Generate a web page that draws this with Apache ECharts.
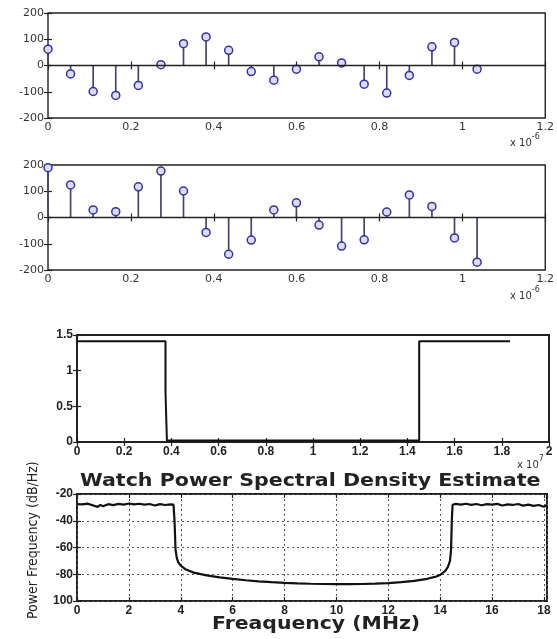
<!DOCTYPE html>
<html>
<head>
<meta charset="utf-8">
<script src="https://cdn.jsdelivr.net/npm/echarts@6/dist/echarts.min.js"></script>
<style>
  html, body { margin: 0; padding: 0; background: #fff; }
  #chart { width: 557px; height: 639px; }
</style>
</head>
<body>
<div id="chart"></div>
<script>
// Sample instants (units of 1e-6 s) shared by both stem plots
const sampleTimes = [0, 0.0545, 0.109, 0.1635, 0.218, 0.2725, 0.327, 0.3815, 0.436, 0.4905,
                     0.545, 0.5995, 0.654, 0.7085, 0.763, 0.8175, 0.872, 0.9265, 0.981, 1.0355];
// Stem amplitudes, upper plot
const stemA = [62, -32, -99, -114, -76, 3, 83, 109, 58, -23,
               -56, -14, 33, 10, -71, -105, -38, 71, 88, -14];
// Stem amplitudes, lower plot
const stemB = [190, 124, 29, 22, 117, 177, 101, -57, -140, -86,
               29, 56, -29, -109, -85, 21, 86, 42, -78, -170];

// Ideal band-stop response (frequency in units of 1e7 Hz)
const maskFreq = [0, 0.375, 0.375, 0.381, 0.381, 1.45, 1.45, 1.835];
const maskGain = [1.414, 1.414, 0.70, 0.70, 0.02, 0.02, 1.414, 1.414];

// Welch PSD estimate (MHz, dB/Hz)
const psdFreq = [0, 0.2, 0.4, 0.6, 0.8, 0.9, 1.0, 1.2, 1.4, 1.6, 1.8, 2.0, 2.2, 2.4, 2.6, 2.8, 3.0, 3.2, 3.4, 3.6, 3.72,
                 3.76, 3.8, 3.85, 3.9, 4.0, 4.2, 4.5, 5.0, 5.5, 6.0, 6.5, 7.0, 7.5, 8.0, 8.5, 9.0, 9.5, 10.0, 10.5,
                 11.0, 11.5, 12.0, 12.5, 13.0, 13.5, 13.8, 14.0, 14.2, 14.3, 14.38, 14.42, 14.45, 14.48,
                 14.6, 14.8, 15.0, 15.2, 15.4, 15.6, 15.8, 16.0, 16.2, 16.4, 16.6, 16.8, 17.0, 17.2, 17.4, 17.6, 17.8, 18.0, 18.12];
const psdDb = [-27.5, -27.8, -27.2, -28.4, -29.6, -28.1, -29.2, -27.6, -28.3, -27.4, -27.9, -27.1, -27.8, -27.3, -28.0, -27.5, -28.6, -27.6, -28.2, -27.7, -28.0,
               -40, -62, -68, -71, -73.5, -76.5, -78.8, -80.8, -82.3, -83.5, -84.5, -85.3, -85.9, -86.4, -86.8, -87.1, -87.3, -87.4, -87.4,
               -87.3, -87.0, -86.6, -85.9, -84.9, -83.4, -82.0, -80.5, -77.5, -74.5, -70, -62, -40, -28,
               -27.4, -27.9, -27.3, -28.1, -27.5, -28.4, -27.6, -28.0, -27.4, -28.6, -27.8, -28.2, -27.5, -28.7, -27.9, -28.9, -28.2, -29.5, -28.3];

// Tick labels
const stemYTicks = ['-200', '-100', '0', '100', '200'];
const maskYTicks = ['0', '0.5', '1', '1.5'];
const psdYTicks = ['100', '-80', '-60', '-40', '-20'];
const psdTitle = 'Watch Power Spectral Density Estimate';
const psdXName = 'Freaquency (MHz)';
const psdYName = 'Power Frequency (dB/Hz)';

const chart = echarts.init(document.getElementById('chart'), null, { renderer: 'canvas' });

const grids = [
  { left: 48, top: 13, width: 498, height: 105, frame: 1.4, bold: false },
  { left: 48, top: 165, width: 498, height: 105, frame: 1.4, bold: false },
  { left: 77, top: 335, width: 472, height: 107, frame: 2, bold: true },
  { left: 77, top: 494, width: 470, height: 107, frame: 2, bold: true }
];

const ranges = [
  { x: [0, 1.2, 0.2], y: [-200, 200, 100], yLabels: stemYTicks, yMin: -200, yStep: 100 },
  { x: [0, 1.2, 0.2], y: [-200, 200, 100], yLabels: stemYTicks, yMin: -200, yStep: 100 },
  { x: [0, 2, 0.2], y: [0, 1.5, 0.5], yLabels: maskYTicks, yMin: 0, yStep: 0.5 },
  { x: [0, 18.12, 2], y: [-100, -20, 20], yLabels: psdYTicks, yMin: -100, yStep: 20 }
];

const labelFont = (bold) => ({
  fontFamily: bold ? 'Liberation Sans, Arial, sans-serif' : 'DejaVu Sans, sans-serif',
  fontSize: bold ? 12 : 11,
  fontWeight: bold ? 'bold' : 'normal',
  color: bold ? '#222' : '#333'
});

const xAxes = [], yAxes = [];
grids.forEach((g, i) => {
  const r = ranges[i];
  const grid = i === 3;
  const tick = { show: true, inside: true, length: 4, lineStyle: { color: '#222', width: 1.2 } };
  const split = grid
    ? { show: true, lineStyle: { color: '#555', type: [2, 3], width: 1 } }
    : { show: false };
  xAxes.push({
    type: 'value', gridIndex: i, position: 'bottom',
    min: r.x[0], max: r.x[1], interval: r.x[2],
    axisLine: { show: false }, axisTick: tick, splitLine: split,
    axisLabel: Object.assign({
      margin: 4, showMaxLabel: i !== 3,
      formatter: (v) => (Math.round(v * 100) / 100).toString()
    }, labelFont(g.bold))
  });
  xAxes.push({
    type: 'value', gridIndex: i, position: 'top',
    min: r.x[0], max: r.x[1], interval: r.x[2],
    axisLine: { show: false }, axisTick: tick, splitLine: { show: false },
    axisLabel: { show: false }
  });
  yAxes.push({
    type: 'value', gridIndex: i, position: 'left',
    min: r.y[0], max: r.y[1], interval: r.y[2],
    axisLine: { show: false }, axisTick: tick, splitLine: split,
    axisLabel: Object.assign({
      margin: 4,
      formatter: (v) => r.yLabels[Math.round((v - r.yMin) / r.yStep)]
    }, labelFont(g.bold))
  });
  yAxes.push({
    type: 'value', gridIndex: i, position: 'right',
    min: r.y[0], max: r.y[1], interval: r.y[2],
    axisLine: { show: false }, axisTick: tick, splitLine: { show: false },
    axisLabel: { show: false }
  });
});

function stemSeries(values, idx) {
  const data = sampleTimes.map((t, k) => [t, values[k]]);
  return [
    {
      type: 'custom', xAxisIndex: 2 * idx, yAxisIndex: 2 * idx, data: data, z: 3,
      renderItem: (params, api) => {
        const x = api.value(0), y = api.value(1);
        const p0 = api.coord([x, 0]);
        const p1 = api.coord([x, y]);
        return {
          type: 'line',
          shape: { x1: p0[0], y1: p0[1], x2: p1[0], y2: p1[1] },
          style: { stroke: '#45456a', lineWidth: 1.7 }
        };
      }
    },
    {
      type: 'scatter', xAxisIndex: 2 * idx, yAxisIndex: 2 * idx, data: data, z: 4,
      symbol: 'circle', symbolSize: 8,
      itemStyle: { color: '#dcdcf0', borderColor: '#33339a', borderWidth: 1.5, opacity: 1 },
      markLine: {
        silent: true, symbol: 'none', label: { show: false },
        lineStyle: { color: '#222', type: 'solid', width: 1.3 },
        data: [{ yAxis: 0 }]
      }
    }
  ];
}

const series = [
  ...stemSeries(stemA, 0),
  ...stemSeries(stemB, 1),
  {
    type: 'line', xAxisIndex: 4, yAxisIndex: 4, showSymbol: false,
    data: maskFreq.map((f, k) => [f, maskGain[k]]),
    lineStyle: { color: '#111', width: 2 }
  },
  {
    type: 'line', xAxisIndex: 6, yAxisIndex: 6, showSymbol: false,
    data: psdFreq.map((f, k) => [f, psdDb[k]]),
    lineStyle: { color: '#111', width: 2.2 }
  }
];

const expText = (x, y, exp) => ({
  type: 'text', left: x, top: y, silent: true,
  style: {
    text: '{a|x 10}{b|' + exp + '}',
    rich: {
      a: { fontFamily: 'DejaVu Sans, sans-serif', fontSize: 10, fill: '#333', padding: [6, 0, 0, 0] },
      b: { fontFamily: 'DejaVu Sans, sans-serif', fontSize: 8, fill: '#333', padding: [0, 0, 6, 0] }
    }
  }
});

chart.setOption({
  animation: false,
  backgroundColor: '#ffffff',
  grid: grids.map((g) => ({
    left: g.left, top: g.top, width: g.width, height: g.height,
    show: true, borderColor: '#222', borderWidth: g.frame, backgroundColor: 'transparent'
  })),
  xAxis: xAxes,
  yAxis: yAxes,
  series: series,
  graphic: [
    expText(510, 133, '-6'),
    expText(510, 286, '-6'),
    expText(517, 455, '7'),
    {
      type: 'text', silent: true, x: 80, y: 473, scaleX: 1.21,
      style: {
        text: psdTitle, fill: '#222',
        font: 'bold 17px "DejaVu Sans", sans-serif'
      }
    },
    {
      type: 'text', silent: true, x: 212, y: 616, scaleX: 1.2,
      style: {
        text: psdXName, fill: '#222',
        font: 'bold 17px "DejaVu Sans", sans-serif'
      }
    },
    {
      type: 'text', silent: true, x: 26, y: 619, rotation: Math.PI / 2,
      style: {
        text: psdYName, fill: '#222',
        font: '14px "Liberation Sans Narrow", "DejaVu Sans Condensed", "Noto Sans", sans-serif',
        align: 'left', verticalAlign: 'top'
      }
    }
  ]
});
</script>
</body>
</html>
